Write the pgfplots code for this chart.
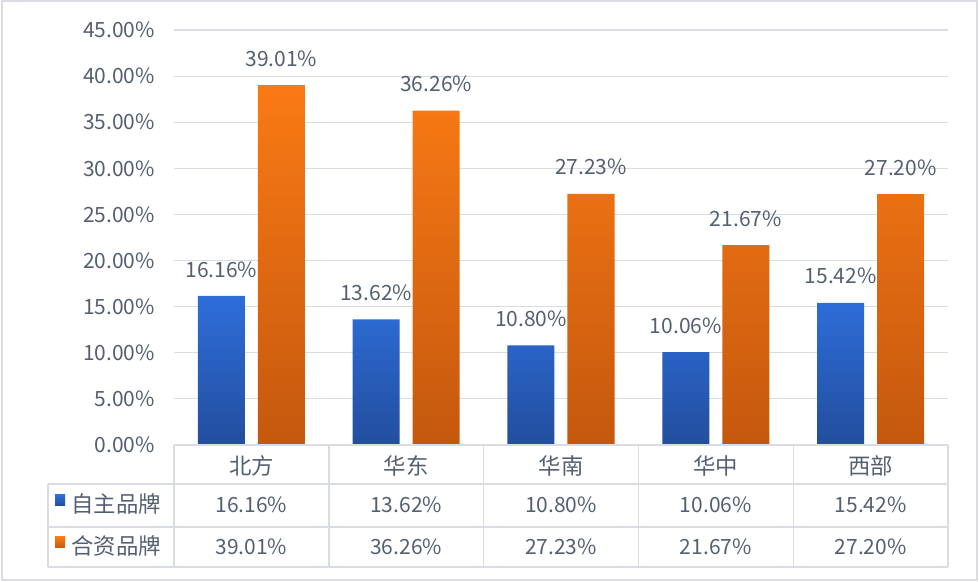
\documentclass[border=0pt]{standalone}
\usepackage{fontspec}
\setmainfont{Noto Sans CJK SC}
\usepackage{pgfplots}
\pgfplotsset{compat=1.18}
\definecolor{txt}{RGB}{84,95,114}
\definecolor{gridc}{RGB}{217,221,227}
\definecolor{bluetop}{RGB}{46,110,218}
\definecolor{bluebot}{RGB}{34,78,158}
\definecolor{orgtop}{RGB}{250,122,20}
\definecolor{orgbot}{RGB}{196,88,14}
\begin{document}
\begin{tikzpicture}[x=1pt,y=1pt,font=\fontsize{10.5}{12}\selectfont,text=txt]
\useasboundingbox (0,0) rectangle (489.5,291);
\draw[gridc, line width=1pt] (0.75,0.75) rectangle (488.5,290.25);
\begin{axis}[
  at={(87pt,68.5pt)}, anchor=south west,
  width=387pt, height=207.5pt, scale only axis,
  xmin=-0.5, xmax=4.5, ymin=0, ymax=45,
  axis line style={draw=none},
  xtick=\empty,
  ytick={0,5,10,15,20,25,30,35,40,45},
  ymajorgrids, grid style={gridc, line width=0.6pt},
  major tick length=0pt,
  /pgf/number format/assume math mode=true,
  yticklabel={\pgfmathprintnumber[fixed,fixed zerofill,precision=2]{\tick}\%},
  yticklabel style={xshift=-6pt, text=txt, font=\fontsize{10.5}{12}\selectfont},
  ybar, bar width=23.5pt,
  nodes near coords={\pgfmathprintnumber[fixed,fixed zerofill,precision=2]{\pgfplotspointmeta}\%},
  nodes near coords style={yshift=5.8pt, text=txt, font=\fontsize{10.5}{12}\selectfont},
  clip=false,
]
\addplot[draw=none, top color=bluetop, bottom color=bluebot, bar shift=-15pt]
  coordinates {(0,16.16) (1,13.62) (2,10.80) (3,10.06) (4,15.42)};
\addplot[draw=none, top color=orgtop, bottom color=orgbot, bar shift=15pt]
  coordinates {(0,39.01) (1,36.26) (2,27.23) (3,21.67) (4,27.20)};
\end{axis}
% data table
\begin{scope}[gridc, line width=0.7pt]
\draw (87,68.5) -- (474,68.5);
\draw (24,49) -- (474,49);
\draw (24,27.5) -- (474,27.5);
\draw (24,7.5) -- (474,7.5);
\draw (24,49) -- (24,7.5);
\foreach \x in {87,164.4,241.8,319.2,396.6,474} \draw (\x,68.5) -- (\x,7.5);
\end{scope}
\foreach \c [count=\i from 0] in {北方,华东,华南,华中,西部}
  \node[text=txt, font=\fontsize{11.2}{13}\selectfont] at (125.7+77.4*\i,58.2) {\c};
\foreach \v [count=\i from 0] in {16.16,13.62,10.80,10.06,15.42}
  \node[text=txt] at (125.7+77.4*\i,38.5) {\v\%};
\foreach \v [count=\i from 0] in {39.01,36.26,27.23,21.67,27.20}
  \node[text=txt] at (125.7+77.4*\i,17.5) {\v\%};
\shade[top color=bluetop, bottom color=bluebot] (27.5,38.2) rectangle (32.5,43.5);
\shade[top color=orgtop, bottom color=orgbot] (27.5,17) rectangle (32.5,22.5);
\node[anchor=west, text=txt, inner sep=0pt, font=\fontsize{11.2}{13}\selectfont] at (35.5,38.8) {自主品牌};
\node[anchor=west, text=txt, inner sep=0pt, font=\fontsize{11.2}{13}\selectfont] at (35.5,17.8) {合资品牌};
\end{tikzpicture}
\end{document}
